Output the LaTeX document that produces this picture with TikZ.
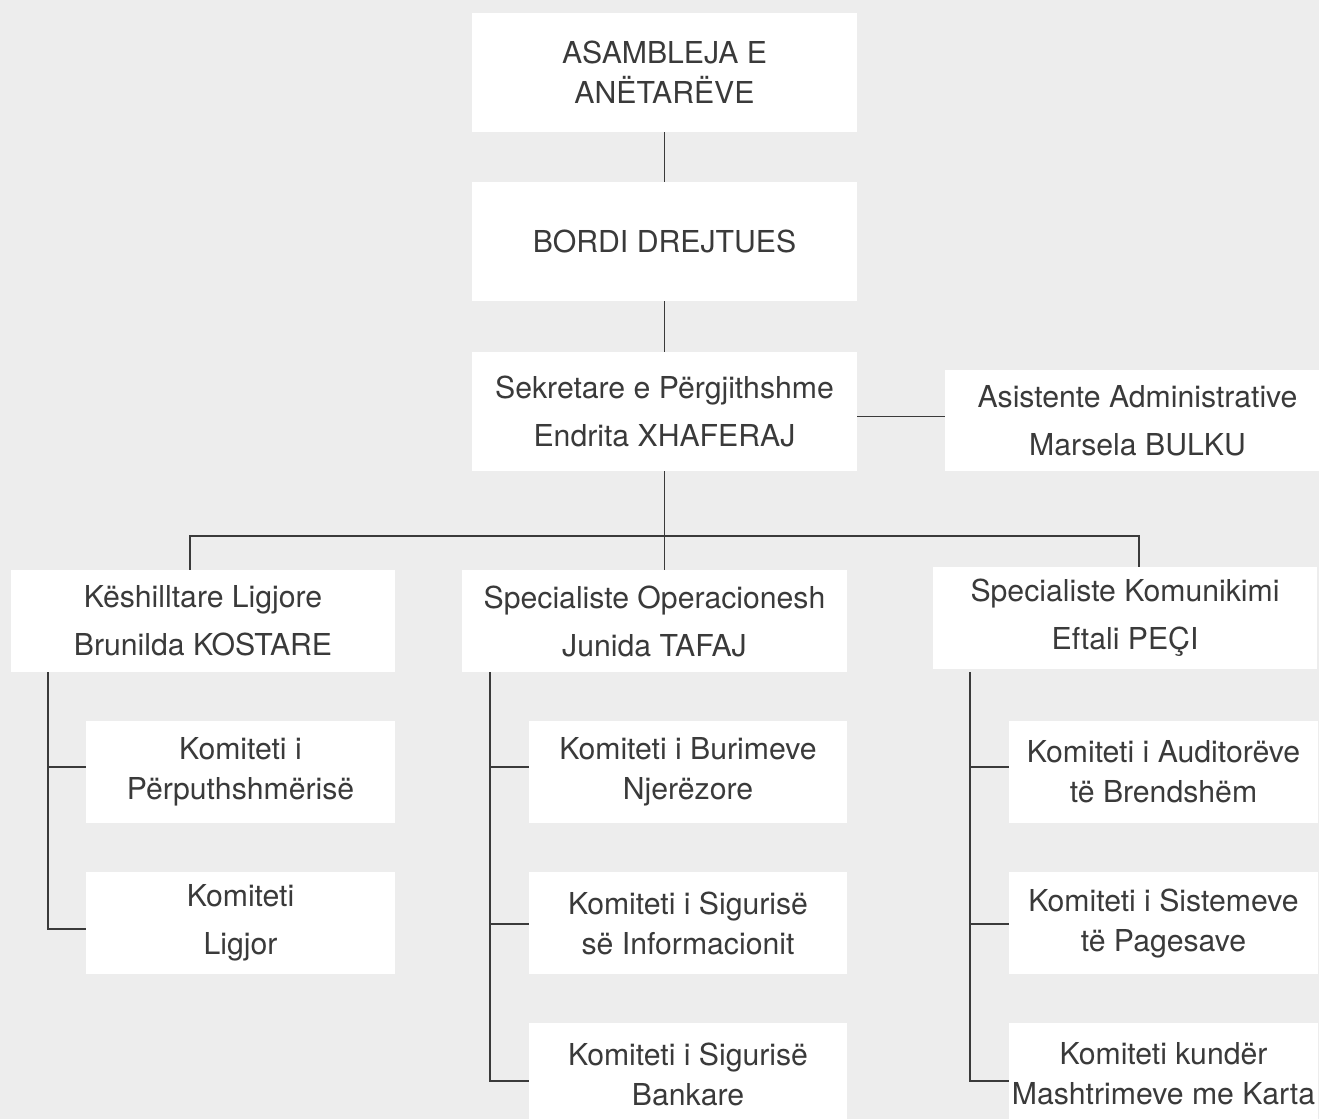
\documentclass[tikz,border=0pt]{standalone}
\usepackage{fontspec}
\setmainfont{TeX Gyre Heros}
\definecolor{bg}{HTML}{EDEDED}
\definecolor{ln}{HTML}{3A3A3A}
\definecolor{tx}{HTML}{3A3A3A}
\begin{document}
\begin{tikzpicture}[x=1pt,y=-1pt,
  box/.style={fill=white,draw=none,inner sep=0pt,align=center,text=tx,
    minimum width=385pt,minimum height=119pt},
  ls/.style={font=\fontsize{30.2}{40}\selectfont},
  lw/.style={font=\fontsize{30.2}{48}\selectfont},
  conn/.style={draw=ln,line width=1.5pt}]
\fill[bg] (0,0) rectangle (1319,1119);
\useasboundingbox (0,0) rectangle (1319,1119);
\node[box,ls] (asm) at (664.5,72.5) {ASAMBLEJA E\\ANËTARËVE};
\node[box,ls,minimum height=119pt] (bord) at (664.5,241.5) {BORDI DREJTUES};
\node[box,lw] (sek) at (664.5,411.5) {Sekretare e Përgjithshme\\Endrita XHAFERAJ};
\node[box,lw,minimum height=101pt] (asi) at (1137.5,420.5) {Asistente Administrative\\Marsela BULKU};
\node[box,lw,minimum width=384pt,minimum height=102pt] (kesh) at (203,621) {Këshilltare Ligjore\\Brunilda KOSTARE};
\node[box,lw,minimum width=385pt,minimum height=102pt] (spop) at (654.5,621) {Specialiste Operacionesh\\Junida TAFAJ};
\node[box,lw,minimum width=384pt,minimum height=102pt] (spkom) at (1125,618) {Specialiste Komunikimi\\Eftali PEÇI};
\node[box,ls,minimum width=309pt,minimum height=102pt] (c1) at (240.5,772) {Komiteti i\\Përputhshmërisë};
\node[box,lw,minimum width=309pt,minimum height=102pt] (c2) at (240.5,923) {Komiteti\\Ligjor};
\node[box,ls,minimum width=318pt,minimum height=102pt] (m1) at (688,772) {Komiteti i Burimeve\\Njerëzore};
\node[box,ls,minimum width=318pt,minimum height=102pt] (m2) at (688,923) {Komiteti i Sigurisë\\së Informacionit};
\node[box,ls,minimum width=318pt,minimum height=102pt] (m3) at (688,1074) {Komiteti i Sigurisë\\Bankare};
\node[box,ls,minimum width=309pt,minimum height=102pt] (r1) at (1163.5,772) {Komiteti i Auditorëve\\të Brendshëm};
\node[box,ls,minimum width=309pt,minimum height=102pt] (r2) at (1163.5,923) {Komiteti i Sistemeve\\të Pagesave};
\node[box,ls,minimum width=309pt,minimum height=102pt] (r3) at (1163.5,1074) {Komiteti kundër\\Mashtrimeve me Karta};
% connectors
\draw[conn] (asm.south) -- (bord.north);
\draw[conn] (bord.south) -- (sek.north);
\draw[conn] ([yshift=-5pt]sek.east) -- ([yshift=-5pt]sek.east -| asi.west);
\coordinate (bus) at (664.5,536);
\draw[conn] (sek.south) -- (sek.south |- spop.north);
\draw[conn] ([xshift=-13pt]kesh.north) |- (bus) -| ([xshift=14pt]spkom.north);
% left bracket
\draw[conn] ([xshift=37pt]kesh.south west) |- ([yshift=5pt]c1.west);
\draw[conn] ([xshift=37pt]kesh.south west) |- ([yshift=-6pt]c2.west);
% middle bracket
\draw[conn] ([xshift=28pt]spop.south west) |- ([yshift=5pt]m1.west);
\draw[conn] ([xshift=28pt]spop.south west) |- ([yshift=-1pt]m2.west);
\draw[conn] ([xshift=28pt]spop.south west) |- ([yshift=-7pt]m3.west);
% right bracket
\draw[conn] ([xshift=37pt,yshift=-3pt]spkom.south west) |- ([yshift=5pt]r1.west);
\draw[conn] ([xshift=37pt,yshift=-3pt]spkom.south west) |- ([yshift=-1pt]r2.west);
\draw[conn] ([xshift=37pt,yshift=-3pt]spkom.south west) |- ([yshift=-7pt]r3.west);
\end{tikzpicture}
\end{document}
